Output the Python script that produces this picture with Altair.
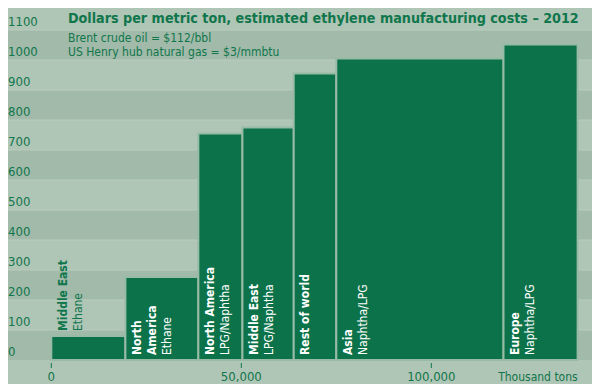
import altair as alt
import pandas as pd

# ---- data ----
regions_bold = [["Middle East"], ["North", "America"], ["North America"], ["Middle East"],
                ["Rest of world"], ["Asia"], ["Europe"]]
feedstocks = ["Ethane", "Ethane", "LPG/Naphtha", "LPG/Naphtha", "", "Naphtha/LPG", "Naphtha/LPG"]
capacity = [19500, 19200, 11600, 13500, 11200, 44000, 19500]   # thousand tons
cost = [80, 277, 755, 775, 955, 1005, 1052]                      # $/metric ton
inside = [False, True, True, True, True, True, True]

y_ticks = [0, 100, 200, 300, 400, 500, 600, 700, 800, 900, 1000, 1100]
x_ticks = [0, 50000, 100000]
x_tick_labels = ["0", "50,000", "100,000"]
band_starts = [0, 200, 400, 600, 800, 1000]

title_text = "Dollars per metric ton, estimated ethylene manufacturing costs \u2013 2012"
subtitle_lines = ["Brent crude oil = $112/bbl", "US Henry hub natural gas = $3/mmbtu"]
x_unit = "Thousand tons"

# ---- style ----
BG = "#afc5b5"
BAND = "#a1baa9"
GRID = "#bacdbf"
BAR = "#0b7249"
TXT = "#10764c"
FONT = "DejaVu Sans Condensed, Liberation Sans Narrow, DejaVu Sans, sans-serif"
W, H = 584, 376

xs = alt.Scale(domain=[-11395, 142289], nice=False, zero=False)
ys = alt.Scale(domain=[-80, 1173.33], nice=False, zero=False)

ends = pd.Series(capacity).cumsum()
starts = ends - pd.Series(capacity)
bars_df = pd.DataFrame({"start": starts, "end": ends, "cost": cost})

rows = []
for k in range(len(cost)):
    lines = [(t, True) for t in regions_bold[k]]
    if feedstocks[k]:
        lines.append((feedstocks[k], False))
    for i, (t, b) in enumerate(lines):
        rows.append({"start": starts[k], "base": 0 if inside[k] else cost[k],
                     "color": "white" if inside[k] else TXT,
                     "text": t, "line": i, "bold": b})
lab_df = pd.DataFrame(rows)

band_df = pd.DataFrame({"lo": band_starts, "hi": [b + 100 for b in band_starts]})
grid_df = pd.DataFrame({"v": y_ticks[1:]})
ytick_df = pd.DataFrame({"v": y_ticks, "label": [str(v) for v in y_ticks]})
xtick_df = pd.DataFrame({"v": x_ticks, "label": x_tick_labels})

bands = alt.Chart(band_df).mark_rect(color=BAND).encode(
    x=alt.value(0), x2=alt.value(W),
    y=alt.Y("lo:Q", scale=ys, axis=None), y2="hi:Q")

grid = alt.Chart(grid_df).mark_rule(color=GRID, strokeWidth=1).encode(
    x=alt.value(0), x2=alt.value(W),
    y=alt.Y("v:Q", scale=ys, axis=None))

bars = alt.Chart(bars_df).mark_rect(fill=BAR, stroke="#98bba5", strokeWidth=2).encode(
    x=alt.X("start:Q", scale=xs, axis=None), x2="end:Q",
    y=alt.Y("cost:Q", scale=ys, axis=None), y2=alt.datum(0))

ylabels = alt.Chart(ytick_df).mark_text(
    align="left", baseline="middle", dy=-7.5, fontSize=13, font=FONT, color=TXT).encode(
    x=alt.value(0), y=alt.Y("v:Q", scale=ys, axis=None), text="label:N")

xticks = alt.Chart(xtick_df).mark_rule(color=TXT, strokeWidth=1).encode(
    x=alt.X("v:Q", scale=xs, axis=None), y=alt.value(355), y2=alt.value(360))

xlabels = alt.Chart(xtick_df).mark_text(
    align="center", baseline="middle", fontSize=13, font=FONT, color=TXT).encode(
    x=alt.X("v:Q", scale=xs, axis=None), y=alt.value(368.5), text="label:N")

unit = alt.Chart(pd.DataFrame({"t": [x_unit]})).mark_text(
    align="right", baseline="middle", fontSize=12, font=FONT, color=TXT).encode(
    x=alt.value(569.7), y=alt.value(368.5), text="t:N")

title = alt.Chart(pd.DataFrame({"t": [title_text]})).mark_text(
    align="left", baseline="middle", fontSize=14.2, fontWeight="bold", font=FONT, color=TXT).encode(
    x=alt.value(60), y=alt.value(10.5), text="t:N")

subtitle = alt.Chart(pd.DataFrame({"t": [subtitle_lines[0]]})).mark_text(
    align="left", baseline="middle", fontSize=12, font=FONT, color=TXT, lineHeight=14).encode(
    x=alt.value(60), y=alt.value(30), text=alt.value(subtitle_lines))

layers = [bands, grid, bars, ylabels, xticks, xlabels, unit, title, subtitle]

for b in [True, False]:
    for i in range(3):
        sub = lab_df[(lab_df["bold"] == b) & (lab_df["line"] == i)]
        if sub.empty:
            continue
        layers.append(alt.Chart(sub).mark_text(
            angle=270, align="left", baseline="middle", dx=5, dy=11.5 + 15 * i,
            fontSize=12, fontWeight="bold" if b else "normal", font=FONT).encode(
            x=alt.X("start:Q", scale=xs, axis=None),
            y=alt.Y("base:Q", scale=ys, axis=None),
            text="text:N",
            color=alt.Color("color:N", scale=None)))

chart = alt.layer(*layers).properties(
    width=W, height=H, autosize=alt.AutoSizeParams(type="none"), padding=0,
    background=BG).configure_view(stroke=None, fill=BG)

chart.save("out.html", embed_options={"renderer": "svg", "actions": False})
